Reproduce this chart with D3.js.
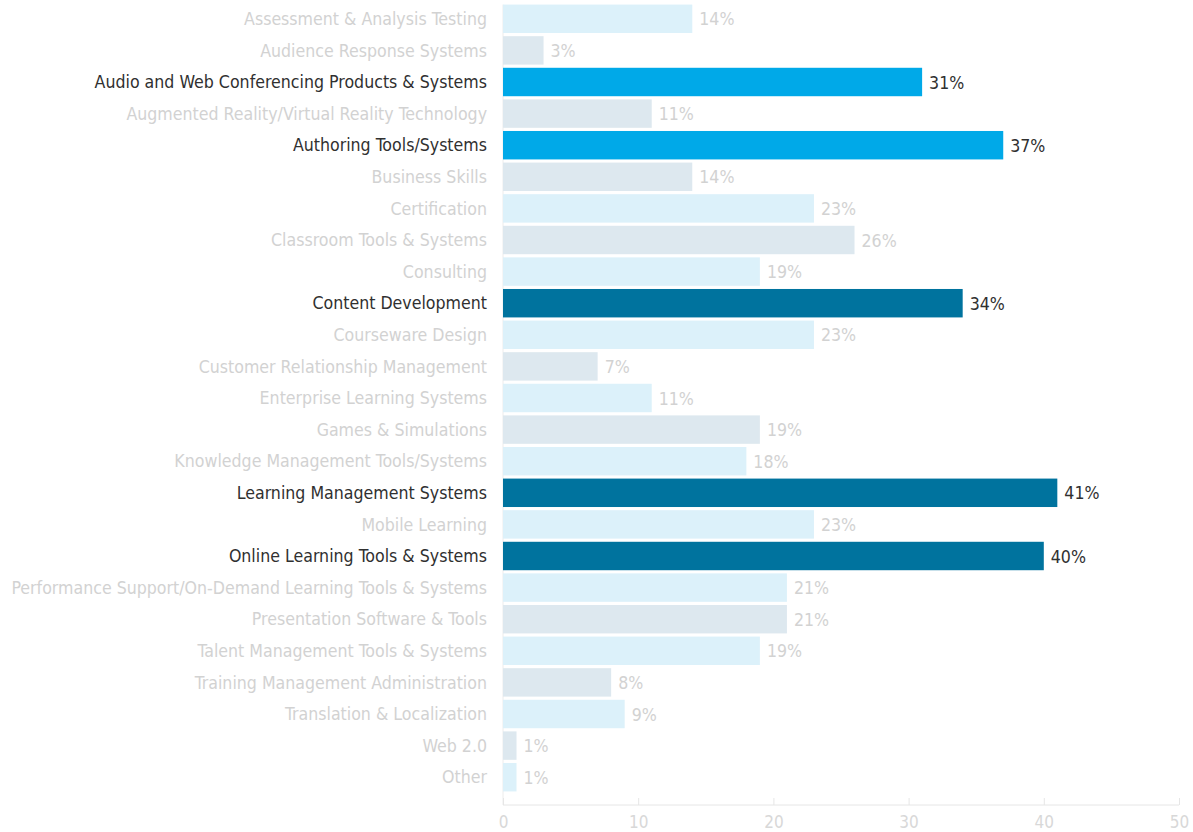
<!DOCTYPE html>
<html>
<head>
<meta charset="utf-8">
<script src="https://cdn.jsdelivr.net/npm/d3@7"></script>
<style>
  body { margin: 0; background: #fff; }
  svg { display: block; font-family: "DejaVu Sans Condensed", "Liberation Sans Narrow", sans-serif; }
  .x-axis text { font-size: 17px; }
</style>
</head>
<body>
<div id="chart"></div>
<script>
// Categories, top to bottom
const categories = [
  "Assessment & Analysis Testing",
  "Audience Response Systems",
  "Audio and Web Conferencing Products & Systems",
  "Augmented Reality/Virtual Reality Technology",
  "Authoring Tools/Systems",
  "Business Skills",
  "Certification",
  "Classroom Tools & Systems",
  "Consulting",
  "Content Development",
  "Courseware Design",
  "Customer Relationship Management",
  "Enterprise Learning Systems",
  "Games & Simulations",
  "Knowledge Management Tools/Systems",
  "Learning Management Systems",
  "Mobile Learning",
  "Online Learning Tools & Systems",
  "Performance Support/On-Demand Learning Tools & Systems",
  "Presentation Software & Tools",
  "Talent Management Tools & Systems",
  "Training Management Administration",
  "Translation & Localization",
  "Web 2.0",
  "Other"
];

// Percent of respondents
const values = [14, 3, 31, 11, 37, 14, 23, 26, 19, 34, 23, 7, 11, 19, 18, 41, 23, 40, 21, 21, 19, 8, 9, 1, 1];

// Highlight groups: "bright", "dark" or "" for the faded rows
const highlight = ["", "", "bright", "", "bright", "", "", "", "", "dark", "", "", "", "", "", "dark", "", "dark", "", "", "", "", "", "", ""];

const xTicks = [0, 10, 20, 30, 40, 50];

const data = categories.map((c, i) => ({ name: c, value: values[i], hl: highlight[i], i }));

const width = 1193, height = 832;
const x0 = 503, x1 = 1179, axisY = 805;

const svg = d3.select("#chart").append("svg")
  .attr("width", width)
  .attr("height", height);

const x = d3.scaleLinear().domain([0, 50]).range([x0, x1]);
const y = d3.scaleBand().domain(categories).range([3, 793]).paddingInner(0.1).paddingOuter(0.05);

const barColor = d => d.hl === "bright" ? "#00a9e8"
  : d.hl === "dark" ? "#00739e"
  : (d.i % 2 === 0 ? "#dcf1fa" : "#dde8ef");
const textColor = d => d.hl ? "#303030" : "#d2d2d2";

// left baseline
svg.append("line")
  .attr("x1", x0).attr("x2", x0)
  .attr("y1", y(categories[0])).attr("y2", axisY)
  .attr("stroke", "#ececec");

// x axis, ticks pointing up
svg.append("g")
  .attr("class", "x-axis")
  .attr("transform", `translate(0,${axisY})`)
  .call(d3.axisTop(x).tickValues(xTicks).tickSize(7).tickPadding(0))
  .attr("font-family", null)
  .call(g => g.select(".domain").attr("stroke", "#e6e6e6").attr("d", `M${x0},0H${x1}`))
  .call(g => g.selectAll(".tick line").attr("stroke", "#e6e6e6"))
  .call(g => g.selectAll(".tick text")
    .attr("y", 18)
    .attr("dy", "0.32em")
    .attr("fill", "#d8d8d8"));

// bars
svg.selectAll(".bar")
  .data(data)
  .join("rect")
  .attr("class", "bar")
  .attr("x", x(0))
  .attr("y", d => y(d.name))
  .attr("width", d => x(d.value) - x(0))
  .attr("height", y.bandwidth())
  .attr("fill", barColor);

// category labels
svg.selectAll(".label")
  .data(data)
  .join("text")
  .attr("class", "label")
  .attr("x", x0 - 16)
  .attr("y", d => y(d.name) + y.bandwidth() / 2)
  .attr("dy", "0.35em")
  .attr("text-anchor", "end")
  .attr("fill", textColor)
  .attr("font-size", 17.6)
  .text(d => d.name);

// value labels
svg.selectAll(".value")
  .data(data)
  .join("text")
  .attr("class", "value")
  .attr("x", d => x(d.value) + 7)
  .attr("y", d => y(d.name) + y.bandwidth() / 2)
  .attr("dy", "0.38em")
  .attr("fill", textColor)
  .attr("font-size", 17.6)
  .text(d => d.value + "%");
</script>
</body>
</html>
